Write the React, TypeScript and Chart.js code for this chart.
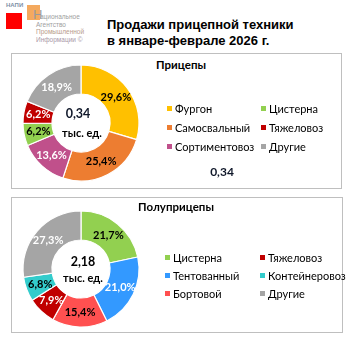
import React, { useEffect, useRef } from "react";
import { Chart, registerables } from "chart.js";

Chart.register(...registerables);

// ---- Data ----
const titleLines = ["Продажи прицепной техники", "в январе-феврале 2026 г."];

const trailerTitle = "Прицепы";
const trailerCategories = ["Фургон", "Самосвальный", "Сортиментовоз", "Цистерна", "Тяжеловоз", "Другие"];
const trailerShares = [29.6, 25.4, 13.6, 6.2, 6.2, 18.9];
const trailerTotal = "0,34";

const semiTitle = "Полуприцепы";
const semiCategories = ["Цистерна", "Тентованный", "Бортовой", "Тяжеловоз", "Контейнеровоз", "Другие"];
const semiShares = [21.7, 21.0, 15.4, 7.9, 6.8, 27.3];
const semiTotal = "2,18";

const unitLabel = "тыс. ед.";

// ---- Styles ----
const trailerColors = ["#FFC000", "#ED7D31", "#C0508B", "#92D050", "#C00000", "#A5A5A5"];
const trailerLabelColors = ["#000000", "#000000", "#FFFFFF", "#000000", "#FFFFFF", "#FFFFFF"];
const semiColors = ["#92D050", "#3399FF", "#FF5050", "#C00000", "#33CCCC", "#A5A5A5"];
const semiLabelColors = ["#000000", "#FFFFFF", "#000000", "#FFFFFF", "#000000", "#FFFFFF"];

const FONT = "Lato, 'Open Sans', sans-serif";

function Donut(props: { values: number[]; colors: string[]; labelColors: string[]; cx: number; cy: number }) {
  const ref = useRef<HTMLCanvasElement | null>(null);
  useEffect(() => {
    if (!ref.current) return;
    const labelColors = props.labelColors;
    const chart = new Chart(ref.current, {
      type: "doughnut",
      data: {
        labels: props.values.map((_, i) => String(i)),
        datasets: [
          {
            data: props.values,
            backgroundColor: props.colors,
            borderColor: "#FFFFFF",
            borderWidth: 1.2,
          },
        ],
      },
      options: {
        responsive: false,
        maintainAspectRatio: false,
        animation: false,
        radius: 58,
        cutout: "50%",
        layout: { padding: 0 },
        plugins: { legend: { display: false }, tooltip: { enabled: false } },
      } as any,
      plugins: [
        {
          id: "pctLabels",
          afterDatasetsDraw(c: any) {
            const ctx = c.ctx;
            const meta = c.getDatasetMeta(0);
            const data = c.data.datasets[0].data as number[];
            ctx.save();
            ctx.font = "bold 11px " + FONT;
            ctx.textAlign = "center";
            ctx.textBaseline = "middle";
            meta.data.forEach((arc: any, i: number) => {
              const p = arc.getProps(["x", "y", "startAngle", "endAngle", "innerRadius", "outerRadius"], true);
              const a = (p.startAngle + p.endAngle) / 2;
              const r = (p.innerRadius + p.outerRadius) / 2;
              ctx.fillStyle = labelColors[i];
              ctx.fillText(data[i].toFixed(1).replace(".", ",") + "%", p.x + Math.cos(a) * r, p.y + Math.sin(a) * r);
            });
            ctx.restore();
          },
        },
      ],
    });
    return () => chart.destroy();
  }, []);
  return (
    <canvas
      ref={ref}
      width={124}
      height={124}
      style={{ position: "absolute", left: props.cx - 62, top: props.cy - 62, width: 124, height: 124 }}
    />
  );
}

function Legend(props: { items: string[]; colors: string[]; x1: number; x2: number; y0: number; dy: number }) {
  const half = Math.ceil(props.items.length / 2);
  return (
    <>
      {props.items.map((name, i) => {
        const col = i < half ? 0 : 1;
        const row = i < half ? i : i - half;
        const x = col === 0 ? props.x1 : props.x2;
        const y = props.y0 + row * props.dy;
        return (
          <div key={i} style={{ position: "absolute", left: x, top: y - 8, height: 16, display: "flex", alignItems: "center", whiteSpace: "nowrap" }}>
            <div style={{ width: 5, height: 5, background: props.colors[i], marginRight: 3 }} />
            <span style={{ fontSize: 11, color: "#000", fontFamily: FONT }}>{name}</span>
          </div>
        );
      })}
    </>
  );
}

function CenterText(props: { x: number; y: number; text: string; size: number; color?: string }) {
  return (
    <div
      style={{
        position: "absolute",
        left: props.x,
        top: props.y,
        transform: "translate(-50%, -50%)",
        fontFamily: FONT,
        fontWeight: 700,
        fontSize: props.size,
        color: props.color || "#000",
        whiteSpace: "nowrap",
        lineHeight: 1,
      }}
    >
      {props.text}
    </div>
  );
}

export default function App() {
  return (
    <div style={{ position: "fixed", left: 0, top: 0, width: 353, height: 353, background: "#fff", overflow: "hidden" }}>
      {/* Logo */}
      <div style={{ position: "absolute", left: 6, top: 2, fontSize: 6, fontFamily: "'Liberation Sans', sans-serif", color: "#7F8FA6", fontWeight: 700, lineHeight: 1 }}>НАПИ</div>
      <div style={{ position: "absolute", left: 6, top: 13, width: 16, height: 16, background: "#FF0000" }} />
      <div style={{ position: "absolute", left: 27, top: 5, width: 13, height: 15, background: "rgba(240,140,40,0.75)" }} />
      <div style={{ position: "absolute", left: 33, top: 8, fontSize: 13, fontFamily: "'Liberation Sans', sans-serif", color: "#9A9A9A", lineHeight: 1 }}>Н</div>
      <div style={{ position: "absolute", left: 40, top: 13, fontSize: 6.5, fontFamily: "'Liberation Sans', sans-serif", color: "#A0A0A0", lineHeight: "7px" }}>ациональное</div>
      <div style={{ position: "absolute", left: 36, top: 21, fontSize: 6.5, fontFamily: "'Liberation Sans', sans-serif", color: "#A0A0A0", lineHeight: "7.3px" }}>
        <div>Агентство</div>
        <div style={{ color: "#B89C8C" }}>Промышленной</div>
        <div style={{ color: "#A898A8" }}>Информации ©</div>
      </div>

      {/* Title */}
      <div style={{ position: "absolute", left: 107, top: 17, fontFamily: "'Liberation Sans', Arial, sans-serif", fontWeight: 700, fontSize: 13, lineHeight: "16px", color: "#000" }}>
        <div>{titleLines[0]}</div>
        <div>{titleLines[1]}</div>
      </div>

      {/* Panel 1 */}
      <div style={{ position: "absolute", left: 11, top: 53, width: 329, height: 134, border: "1px solid #BFBFBF" }} />
      <CenterText x={181} y={65} text={trailerTitle} size={11.5} />
      <Donut values={trailerShares} colors={trailerColors} labelColors={trailerLabelColors} cx={81} cy={123} />
      <CenterText x={78} y={114} text={trailerTotal} size={12.5} color="#10182A" />
      <CenterText x={82} y={132} text={unitLabel} size={11} />
      <Legend items={trailerCategories} colors={trailerColors} x1={167} x2={261} y0={108} dy={19} />
      <CenterText x={222} y={172} text={trailerTotal} size={12} color="#10182A" />

      {/* Panel 2 */}
      <div style={{ position: "absolute", left: 11, top: 197, width: 330, height: 134, border: "1px solid #BFBFBF" }} />
      <CenterText x={176} y={207} text={semiTitle} size={11.5} />
      <Donut values={semiShares} colors={semiColors} labelColors={semiLabelColors} cx={81} cy={269} />
      <CenterText x={83} y={262} text={semiTotal} size={12.5} />
      <CenterText x={83} y={277} text={unitLabel} size={11} />
      <Legend items={semiCategories} colors={semiColors} x1={165} x2={260} y0={257} dy={18} />
    </div>
  );
}
